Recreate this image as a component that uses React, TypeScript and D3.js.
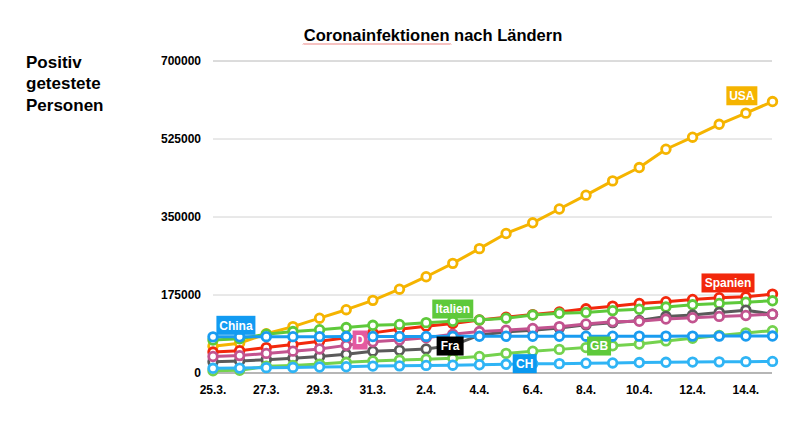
import React from "react";
import * as d3 from "d3";

const dates = ["25.3.","26.3.","27.3.","28.3.","29.3.","30.3.","31.3.","1.4.","2.4.","3.4.","4.4.","5.4.","6.4.","7.4.","8.4.","9.4.","10.4.","11.4.","12.4.","13.4.","14.4.","15.4."];
const tickDates = ["25.3.","27.3.","29.3.","31.3.","2.4.","4.4.","6.4.","8.4.","10.4.","12.4.","14.4."];
const yTicks = [0, 175000, 350000, 525000, 700000];

const usa = [60000, 67000, 88000, 104000, 123000, 142000, 163000, 188000, 216000, 246000, 279000, 313000, 337000, 368000, 399000, 431000, 461000, 502000, 529000, 558000, 583000, 609000];
const spanien = [47000, 50000, 57000, 64000, 71000, 79000, 90000, 98000, 105000, 111000, 119000, 125000, 131000, 137000, 144000, 150000, 156000, 160000, 165000, 169000, 171000, 177000];
const italien = [74000, 77000, 87000, 93000, 97000, 102000, 107000, 109000, 113000, 116000, 119000, 123000, 130000, 134000, 136000, 140000, 143000, 148000, 153000, 156000, 159000, 162000];
const deutschland = [37000, 39000, 44000, 49000, 54000, 62000, 70000, 74000, 79000, 87000, 93000, 96000, 100000, 104000, 110000, 115000, 116000, 121000, 124000, 127000, 129000, 132000];
const frankreich = [25000, 27000, 30000, 33000, 37000, 42000, 49000, 51000, 54000, 62000, 85000, 92000, 96000, 101000, 108000, 113000, 118000, 127000, 130000, 136000, 141000, 132000];
const china = [81100, 81300, 81400, 81500, 81600, 81800, 81900, 82000, 82100, 82200, 82300, 82400, 82500, 82500, 82600, 82600, 82700, 82700, 82800, 82800, 82900, 82900];
const gb = [5000, 6000, 15000, 17000, 20000, 24000, 27000, 29000, 31000, 33000, 37000, 44000, 49000, 53000, 57000, 61000, 65000, 72000, 78000, 84000, 90000, 95000];
const ch = [10500, 11000, 12000, 12500, 13500, 14000, 15500, 16000, 17000, 17500, 18500, 19500, 20500, 21000, 22000, 22500, 23500, 24000, 24500, 25000, 25500, 26000];

// drawing order (bottom first)
const series = [
  { name: "USA", values: usa, color: "#f5b400", labelBg: "#f5b400", labelText: "USA", labelAt: 19.85, labelVal: 622000 },
  { name: "Spanien", values: spanien, color: "#f2280c", labelBg: "#f2280c", labelText: "Spanien", labelAt: 19.33, labelVal: 202000 },
  { name: "Italien", values: italien, color: "#5ec93b", labelBg: "#5ec93b", labelText: "Italien", labelAt: 9.0, labelVal: 143500 },
  { name: "Frankreich", values: frankreich, color: "#5a5a5a", labelBg: "#000000", labelText: "Fra", labelAt: 8.9, labelVal: 60500 },
  { name: "Deutschland", values: deutschland, color: "#c2538f", labelBg: "#e45aa0", labelText: "D", labelAt: 5.52, labelVal: 74000 },
  { name: "GB", values: gb, color: "#74d24e", labelBg: "#5ec93b", labelText: "GB", labelAt: 14.49, labelVal: 60500 },
  { name: "CH", values: ch, color: "#2fb4f5", labelBg: "#0a99f0", labelText: "CH", labelAt: 11.7, labelVal: 21000 },
  { name: "China", values: china, color: "#1a9cf0", labelBg: "#129bf2", labelText: "China", labelAt: 0.86, labelVal: 107000 },
];

const FONT = "'Liberation Sans', Arial, Helvetica, sans-serif";

export default function App() {
  const x = d3.scalePoint<string>().domain(dates).range([213, 772.5]);
  const xi = d3.scaleLinear().domain([0, dates.length - 1]).range([213, 772.5]);
  const y = d3.scaleLinear().domain([0, 700000]).range([373, 61]);
  const line = d3.line<number>().x((_, i) => x(dates[i]) as number).y((v) => y(v));

  const labelW = (t: string) => {
    const w: Record<string, number> = { USA: 31, Spanien: 53, Italien: 41, Fra: 27, D: 15, GB: 24, CH: 24, China: 39 };
    return w[t] ?? 30;
  };

  // wavy spellcheck underline under first word of title
  const wave = (() => {
    let d = "M303,44.5";
    for (let px = 303; px < 450; px += 2) {
      d += ` L${px + 1},${(px / 2) % 2 === 0 ? 45.5 : 43.5} L${px + 2},44.5`;
    }
    return d;
  })();

  return (
    <svg width={800} height={423} style={{ position: "absolute", left: 0, top: 0, background: "#fff" }} fontFamily={FONT}>
      {/* title */}
      <text x={433} y={41} textAnchor="middle" fontSize={16.5} fontWeight="bold" fill="#000">Coronainfektionen nach Ländern</text>
      <path d={wave} fill="none" stroke="#e0302a" strokeWidth={0.8} opacity={0.8} />

      {/* y label */}
      <text x={26} y={68} fontSize={17} fontWeight="bold" fill="#000">
        <tspan x={26} dy={0}>Positiv</tspan>
        <tspan x={26} dy={21}>getestete</tspan>
        <tspan x={26} dy={21.5}>Personen</tspan>
      </text>

      {/* gridlines */}
      {yTicks.filter((t) => t > 0).map((t) => (
        <line key={t} x1={213} x2={772} y1={y(t)} y2={y(t)} stroke={t === 700000 ? "#b8b8b8" : "#d2d2d2"} strokeWidth={1} />
      ))}
      {/* y tick labels */}
      {yTicks.map((t) => (
        <text key={t} x={201} y={y(t)} dy="0.36em" textAnchor="end" fontSize={12} fontWeight="bold" fill="#000">{t}</text>
      ))}
      {/* x axis */}
      <line x1={213} x2={772} y1={y(0)} y2={y(0)} stroke="#6e6e6e" strokeWidth={1.2} />
      {tickDates.map((d) => (
        <text key={d} x={x(d)} y={394} textAnchor="middle" fontSize={12} fontWeight="bold" fill="#000">{d}</text>
      ))}

      {/* series */}
      {series.map((s) => (
        <g key={s.name}>
          <path d={line(s.values) ?? ""} fill="none" stroke={s.color} strokeWidth={3} strokeLinejoin="round" />
          {s.values.map((v, i) => (
            <circle key={i} cx={x(dates[i])} cy={y(v)} r={4.3} fill="#fff" stroke={s.color} strokeWidth={2.8} />
          ))}
        </g>
      ))}

      {/* labels */}
      {series.map((s) => {
        const cx = xi(s.labelAt);
        const cy = y(s.labelVal);
        const w = labelW(s.labelText);
        const h = 19;
        return (
          <g key={"l" + s.name}>
            <rect x={cx - w / 2} y={cy - h / 2} width={w} height={h} fill={s.labelBg} />
            <text x={cx} y={cy} dy="0.36em" textAnchor="middle" fontSize={12} fontWeight="bold" fill="#fff">{s.labelText}</text>
          </g>
        );
      })}
    </svg>
  );
}
